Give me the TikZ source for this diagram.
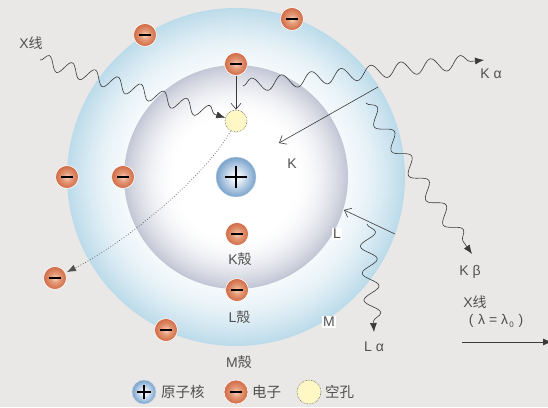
\documentclass[tikz,border=0pt]{standalone}
\usepackage{fontspec}
\setmainfont{Liberation Sans}
\newfontfamily\cjk{Noto Sans CJK SC}
\usetikzlibrary{decorations.pathmorphing,arrows.meta}

\definecolor{bgcol}{HTML}{EAE8E7}
\definecolor{inkcol}{HTML}{3A3A3A}
\definecolor{txtcol}{HTML}{505050}
\definecolor{ringblue}{HTML}{BCDBEA}
\definecolor{ringpale}{HTML}{F4F9FB}
\definecolor{coreedge}{HTML}{C3C6D5}
\definecolor{elight}{HTML}{F8D6C4}
\definecolor{emid}{HTML}{E49A78}
\definecolor{edark}{HTML}{D06A45}
\definecolor{nlight}{HTML}{EEF3F9}
\definecolor{ndark}{HTML}{7EA6CD}
\definecolor{holefill}{HTML}{FFF8C4}

% particle shadings
\pgfdeclareradialshading{eball}{\pgfpoint{0bp}{0bp}}{%
  color(0bp)=(elight); color(10bp)=(emid); color(25bp)=(edark); color(50bp)=(edark)}
\pgfdeclareradialshading{nball}{\pgfpoint{0bp}{0bp}}{%
  color(0bp)=(nlight); color(5bp)=(nlight); color(24bp)=(ndark); color(50bp)=(ndark)}

\tikzset{
  electron/.style={circle, minimum size=#1, inner sep=0pt, shading=eball,
    draw=white, line width=0.6pt,
    path picture={\fill[black]
      ([xshift=-0.27*#1,yshift=-1.2pt]path picture bounding box.center) rectangle
      ([xshift=0.27*#1,yshift=1.2pt]path picture bounding box.center);}},
  electron/.default=23pt,
  nucleus/.style={circle, minimum size=#1, inner sep=0pt, shading=nball,
    draw=white!60!ndark, line width=0.4pt,
    path picture={\draw[black, line width=0.065*#1]
      ([xshift=-0.28*#1]path picture bounding box.center) --
      ([xshift=0.28*#1]path picture bounding box.center)
      ([yshift=-0.28*#1]path picture bounding box.center) --
      ([yshift=0.28*#1]path picture bounding box.center);}},
  nucleus/.default=40pt,
  hole/.style={circle, minimum size=22pt, inner sep=0pt, fill=holefill,
    draw=inkcol!80, densely dotted, line width=0.6pt},
  lbl/.style={font=\fontsize{14}{16}\selectfont, text=txtcol, inner sep=1pt},
  cjklbl/.style={font=\cjk\fontsize{14.5}{16}\selectfont, text=txtcol, inner sep=1pt},
  boxlbl/.style={lbl, fill=white, inner sep=1.5pt},
  wave/.style 2 args={draw=inkcol, line width=0.6pt, decorate,
    decoration={snake, segment length=#1, amplitude=#2, post length=8pt},
    -{Latex[length=9pt,width=7pt]}},
  thinarrow/.style={draw=inkcol, line width=0.6pt, -{Straight Barb[length=6pt,width=10pt]}},
}

\begin{document}
\begin{tikzpicture}[x=1pt,y=-1pt]
  \useasboundingbox (0,0) rectangle (548,407);
  \fill[bgcol] (0,0) rectangle (548,407);

  % M shell: pale blue ring, bluer towards its rim
  \foreach \r in {169,168,...,112} {
    \pgfmathsetmacro\p{100*((\r-112)/57)^1.5}
    \fill[ringblue!\p!ringpale] (236,177) circle[radius=\r];
  }
  % K/L region: white core fading to grey-lilac at its rim
  \foreach \r in {112,111,...,58} {
    \pgfmathsetmacro\p{100*((\r-58)/54)^2}
    \fill[coreedge!\p!white] (236,177) circle[radius=\r];
  }

  % nucleus and hole
  \node[nucleus] (nuc) at (236,177) {};
  \node[hole] (hole) at (236,121) {};

  % electrons
  \node[electron] (e1) at (292,19) {};
  \node[electron] (e2) at (145,35) {};
  \node[electron] (e3) at (236,64) {};
  \node[electron] (e4) at (67,177) {};
  \node[electron] (e5) at (123,177) {};
  \node[electron] (e6) at (237,234) {};
  \node[electron] (e7) at (237,290) {};
  \node[electron] (e8) at (166,330) {};
  \node[electron] (e9) at (55,278) {};

  % free ends of the rays
  \coordinate (xin) at (40,60);
  \coordinate (kaS) at (243,86);
  \coordinate (kaE) at (484,60);
  \coordinate (kbS) at (366,103);
  \coordinate (kbE) at (472,254);
  \coordinate (laS) at (367,224);
  \coordinate (laE) at (374,332);
  \coordinate (kfrom) at (378,87);
  \coordinate (kto) at (279,143);
  \coordinate (lfrom) at (395,234);
  \coordinate (lto) at (344,210);
  \coordinate (xoS) at (462,342);
  \coordinate (xoE) at (552,342);

  % incoming X-ray and characteristic radiation
  \draw[wave={24pt}{7pt}] (xin) -- (hole);
  \draw[wave={30pt}{7pt}] (kaS) -- (kaE);
  \draw[wave={30pt}{7pt}] (kbS) -- (kbE);
  \draw[wave={27pt}{8pt}] (laS) -- (laE);

  % transitions
  \draw[thinarrow] (e3) -- (hole);
  \draw[thinarrow] (kfrom) -- (kto);
  \draw[thinarrow] (lfrom) -- (lto);
  \draw[dotted, draw=txtcol, line width=0.7pt, shorten >=1.5pt,
        -{Latex[length=9pt,width=7pt]}]
    (hole) .. controls +(-30,55) and +(70,-35) .. (e9);

  % outgoing X-ray
  \draw[draw=inkcol, line width=0.8pt, -{Latex[length=9pt,width=7pt]}] (xoS) -- (xoE);

  % labels
  \node[lbl] (lxin) at (31,43) {X{\cjk 线}};
  \node[lbl] (lka) at (491,74) {K α};
  \node[lbl] (lk) at (292,164) {K};
  \node[boxlbl] (ll) at (337,234) {L};
  \node[boxlbl] (lm) at (329,322) {M};
  \node[lbl] (lkb) at (470,272) {K β};
  \node[lbl] (lla) at (374,347) {L α};
  \node[lbl] (lxo) at (475,302) {X{\cjk 线}};
  \node[lbl] (llam) at (496,321) {(\,\,λ = λ\raisebox{-0.35ex}{\fontsize{8}{9}\selectfont\,0}\,\,)};
  \node[lbl] (lks) at (240,259) {K{\cjk 殻}};
  \node[lbl] (lls) at (239.5,317) {L{\cjk 殻}};
  \node[lbl] (lms) at (239,362) {M{\cjk 殻}};

  % legend
  \node[nucleus=24pt] (gn) at (144,392) {};
  \node[cjklbl, anchor=west] (gnt) at (160,392) {原子核};
  \node[electron=24pt] (ge) at (236,392) {};
  \node[cjklbl, anchor=west] (get) at (251,392) {电子};
  \node[hole, minimum size=24pt] (gh) at (309,392) {};
  \node[cjklbl, anchor=west] (ght) at (324,392) {空孔};
\end{tikzpicture}
\end{document}
